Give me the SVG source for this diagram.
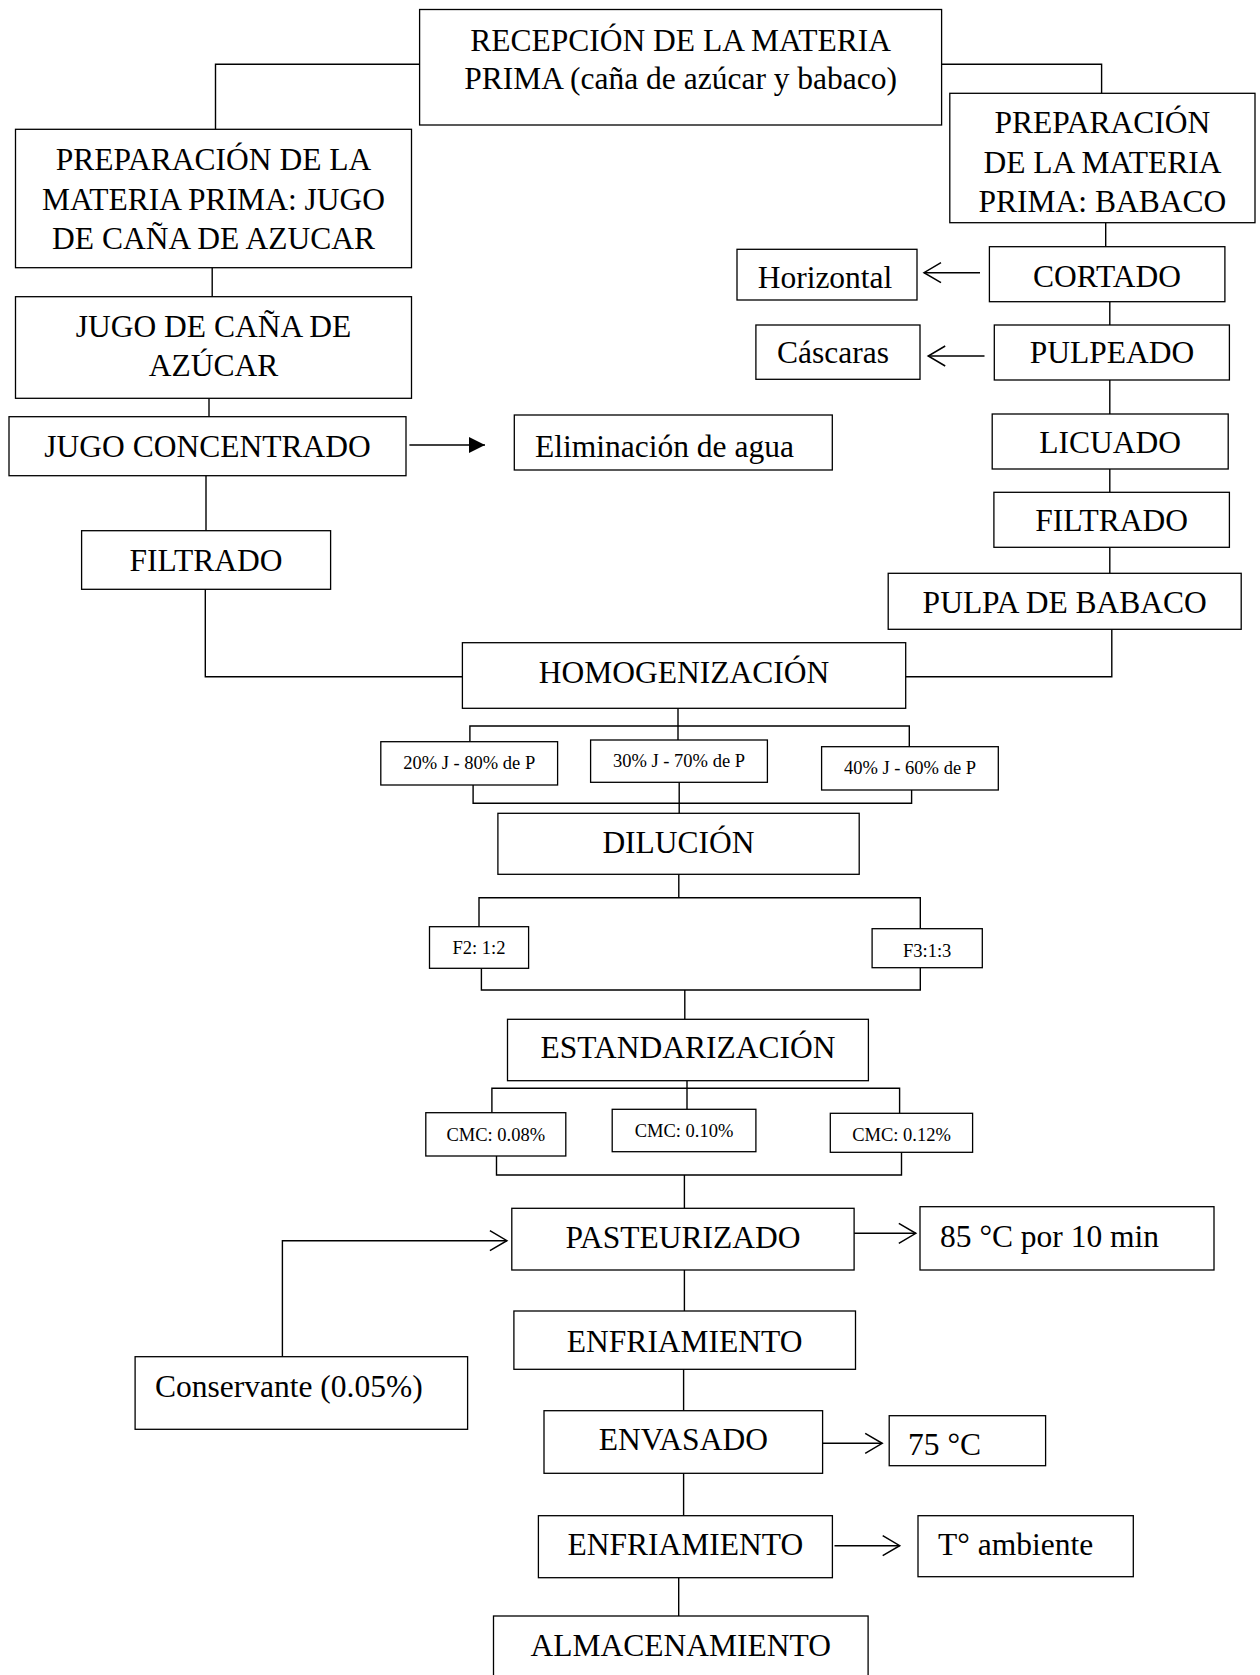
<svg xmlns="http://www.w3.org/2000/svg" width="1260" height="1675" viewBox="0 0 1260 1675">
<style>
.b{fill:#fff;stroke:#000;stroke-width:1.3}
.c{fill:none;stroke:#000;stroke-width:1.4}
.t{font-family:"Liberation Serif","Times New Roman",serif;font-size:31.5px;fill:#000;text-anchor:middle}
.l{text-anchor:start}
.s{font-size:18.5px}
</style>
<defs>
<marker id="open" markerWidth="20" markerHeight="22" refX="18" refY="11" orient="auto" markerUnits="userSpaceOnUse"><path d="M1,1 L18,11 L1,21" fill="none" stroke="#000" stroke-width="1.5"/></marker>
<marker id="solid" markerWidth="16" markerHeight="16" refX="16" refY="8" orient="auto" markerUnits="userSpaceOnUse"><path d="M0,0 L16,8 L0,16 z" fill="#000"/></marker>
</defs>
<rect width="1260" height="1675" fill="#fff"/>
<g id="connectors">
<path class="c" d="M419.6,64.3 H215.5 V129.3"/>
<path class="c" d="M941.5,64.3 H1101.6 V93.3"/>
<path class="c" d="M212.2,267.7 V296.7"/>
<path class="c" d="M209,398.3 V416.7"/>
<path class="c" d="M409.4,445 H485" marker-end="url(#solid)"/>
<path class="c" d="M206,475.7 V530.7"/>
<path class="c" d="M205.3,589.3 V676.7 H462.4"/>
<path class="c" d="M905.7,676.7 H1111.8 V629.3"/>
<path class="c" d="M1105.7,222.7 V246.7"/>
<path class="c" d="M980,272.7 H924" marker-end="url(#open)"/>
<path class="c" d="M1109.8,301.7 V325"/>
<path class="c" d="M984.5,356 H928.2" marker-end="url(#open)"/>
<path class="c" d="M1109.8,380 V414"/>
<path class="c" d="M1109.8,469 V492.3"/>
<path class="c" d="M1109.8,547.3 V573.3"/>
<path class="c" d="M678,708.3 V740"/>
<path class="c" d="M469.9,741.7 V726 H909.3 V746.7"/>
<path class="c" d="M473.1,785 V803.3 H911.6 V790"/>
<path class="c" d="M679.2,782.3 V813.3"/>
<path class="c" d="M678.8,874.3 V897.7"/>
<path class="c" d="M479,926.7 V897.7 H920.3 V928.7"/>
<path class="c" d="M481.4,968.3 V990 H920.3 V967.7"/>
<path class="c" d="M684.8,990 V1019.3"/>
<path class="c" d="M687,1080.7 V1109.3"/>
<path class="c" d="M491.9,1112.7 V1088.3 H899.6 V1113.3"/>
<path class="c" d="M496.5,1156 V1175 H901.5 V1152.3"/>
<path class="c" d="M684.4,1175 V1208.3"/>
<path class="c" d="M854.1,1233.3 H915.8" marker-end="url(#open)"/>
<path class="c" d="M282.4,1356.7 V1240.7 H506.9" marker-end="url(#open)"/>
<path class="c" d="M684.4,1270 V1311"/>
<path class="c" d="M683.6,1369.3 V1410.7"/>
<path class="c" d="M822.6,1443.3 H882.2" marker-end="url(#open)"/>
<path class="c" d="M683.6,1473.3 V1515.7"/>
<path class="c" d="M834.5,1545.7 H899.7" marker-end="url(#open)"/>
<path class="c" d="M678.7,1577.7 V1616"/>
</g>
<g id="recepcion"><rect class="b" x="419.6" y="9.5" width="522" height="115.5"/><text class="t" x="680.6" y="51">RECEPCIÓN DE LA MATERIA</text><text class="t" x="680.6" y="89">PRIMA (caña de azúcar y babaco)</text></g>
<g id="prep-jugo"><rect class="b" x="15.5" y="129.3" width="396" height="138.4"/><text class="t" x="213.5" y="170">PREPARACIÓN DE LA</text><text class="t" x="213.5" y="209.5">MATERIA PRIMA: JUGO</text><text class="t" x="213.5" y="249">DE CAÑA DE AZUCAR</text></g>
<g id="jugo-cana"><rect class="b" x="15.5" y="296.7" width="396" height="101.6"/><text class="t" x="213.5" y="336.7">JUGO DE CAÑA DE</text><text class="t" x="213.5" y="376">AZÚCAR</text></g>
<g id="jugo-concentrado"><rect class="b" x="9" y="416.7" width="397" height="59"/><text class="t" x="207.5" y="456.7">JUGO CONCENTRADO</text></g>
<g id="eliminacion"><rect class="b" x="514.3" y="415" width="318" height="55"/><text class="t l" x="535" y="456.7">Eliminación de agua</text></g>
<g id="filtrado-jugo"><rect class="b" x="81.6" y="530.7" width="249" height="58.6"/><text class="t" x="206" y="570.7">FILTRADO</text></g>
<g id="prep-babaco"><rect class="b" x="949.8" y="93.3" width="305.2" height="129.4"/><text class="t" x="1102.4" y="133.3">PREPARACIÓN</text><text class="t" x="1102.4" y="172.8">DE LA MATERIA</text><text class="t" x="1102.4" y="211.7">PRIMA: BABACO</text></g>
<g id="cortado"><rect class="b" x="989.4" y="246.7" width="235.5" height="55"/><text class="t" x="1107" y="286.7">CORTADO</text></g>
<g id="horizontal"><rect class="b" x="737" y="249.3" width="180" height="50.7"/><text class="t" x="825" y="288.3">Horizontal</text></g>
<g id="pulpeado"><rect class="b" x="994.3" y="325" width="235.1" height="55"/><text class="t" x="1112" y="363.3">PULPEADO</text></g>
<g id="cascaras"><rect class="b" x="755.9" y="325" width="164.1" height="54.3"/><text class="t" x="833" y="363.3">Cáscaras</text></g>
<g id="licuado"><rect class="b" x="992.2" y="414" width="236" height="55"/><text class="t" x="1110.2" y="453.3">LICUADO</text></g>
<g id="filtrado-babaco"><rect class="b" x="993.9" y="492.3" width="235.5" height="55"/><text class="t" x="1111.6" y="530.7">FILTRADO</text></g>
<g id="pulpa"><rect class="b" x="888.2" y="573.3" width="353" height="56"/><text class="t" x="1064.7" y="613.3">PULPA DE BABACO</text></g>
<g id="homogenizacion"><rect class="b" x="462.4" y="642.7" width="443.3" height="65.6"/><text class="t" x="684" y="683.3">HOMOGENIZACIÓN</text></g>
<g id="mezcla-20"><rect class="b" x="380.8" y="741.7" width="176.8" height="43.3"/><text class="t s" x="469.2" y="769.3">20% J - 80% de P</text></g>
<g id="mezcla-30"><rect class="b" x="590.6" y="740" width="176.8" height="42.3"/><text class="t s" x="679" y="766.7">30% J - 70% de P</text></g>
<g id="mezcla-40"><rect class="b" x="821.6" y="746.7" width="176.7" height="43.3"/><text class="t s" x="910" y="774">40% J - 60% de P</text></g>
<g id="dilucion"><rect class="b" x="497.9" y="813.3" width="361.3" height="61"/><text class="t" x="678.5" y="853.3">DILUCIÓN</text></g>
<g id="f2"><rect class="b" x="429.5" y="926.7" width="99.1" height="41.6"/><text class="t s" x="479" y="954">F2: 1:2</text></g>
<g id="f3"><rect class="b" x="872.1" y="928.7" width="110.2" height="39"/><text class="t s" x="927.2" y="956.7">F3:1:3</text></g>
<g id="estandarizacion"><rect class="b" x="507.5" y="1019.3" width="360.9" height="61.4"/><text class="t" x="688" y="1058.3">ESTANDARIZACIÓN</text></g>
<g id="cmc-008"><rect class="b" x="425.8" y="1112.7" width="140" height="43.3"/><text class="t s" x="495.8" y="1140.7">CMC: 0.08%</text></g>
<g id="cmc-010"><rect class="b" x="612.2" y="1109.3" width="143.7" height="42.4"/><text class="t s" x="684" y="1136.7">CMC: 0.10%</text></g>
<g id="cmc-012"><rect class="b" x="830.3" y="1113.3" width="142.3" height="39"/><text class="t s" x="901.5" y="1140.7">CMC: 0.12%</text></g>
<g id="pasteurizado"><rect class="b" x="511.8" y="1208.3" width="342.3" height="61.7"/><text class="t" x="683" y="1248.3">PASTEURIZADO</text></g>
<g id="temp-85"><rect class="b" x="920" y="1206.7" width="294" height="63.3"/><text class="t l" x="940" y="1246.7">85 °C por 10 min</text></g>
<g id="conservante"><rect class="b" x="135.1" y="1356.7" width="332.5" height="72.6"/><text class="t l" x="155" y="1396.7">Conservante (0.05%)</text></g>
<g id="enfriamiento-1"><rect class="b" x="513.9" y="1311" width="341.6" height="58.3"/><text class="t" x="684.7" y="1351.7">ENFRIAMIENTO</text></g>
<g id="envasado"><rect class="b" x="544" y="1410.7" width="278.6" height="62.6"/><text class="t" x="683.3" y="1450">ENVASADO</text></g>
<g id="temp-75"><rect class="b" x="889.2" y="1415.7" width="156.4" height="50"/><text class="t l" x="908" y="1455">75 °C</text></g>
<g id="enfriamiento-2"><rect class="b" x="538.4" y="1515.7" width="294" height="62"/><text class="t" x="685.4" y="1555">ENFRIAMIENTO</text></g>
<g id="ambiente"><rect class="b" x="918" y="1515.7" width="215.3" height="61"/><text class="t l" x="938" y="1555">T° ambiente</text></g>
<g id="almacenamiento"><rect class="b" x="493.5" y="1616" width="374.6" height="80"/><text class="t" x="680.8" y="1656">ALMACENAMIENTO</text></g>
</svg>
